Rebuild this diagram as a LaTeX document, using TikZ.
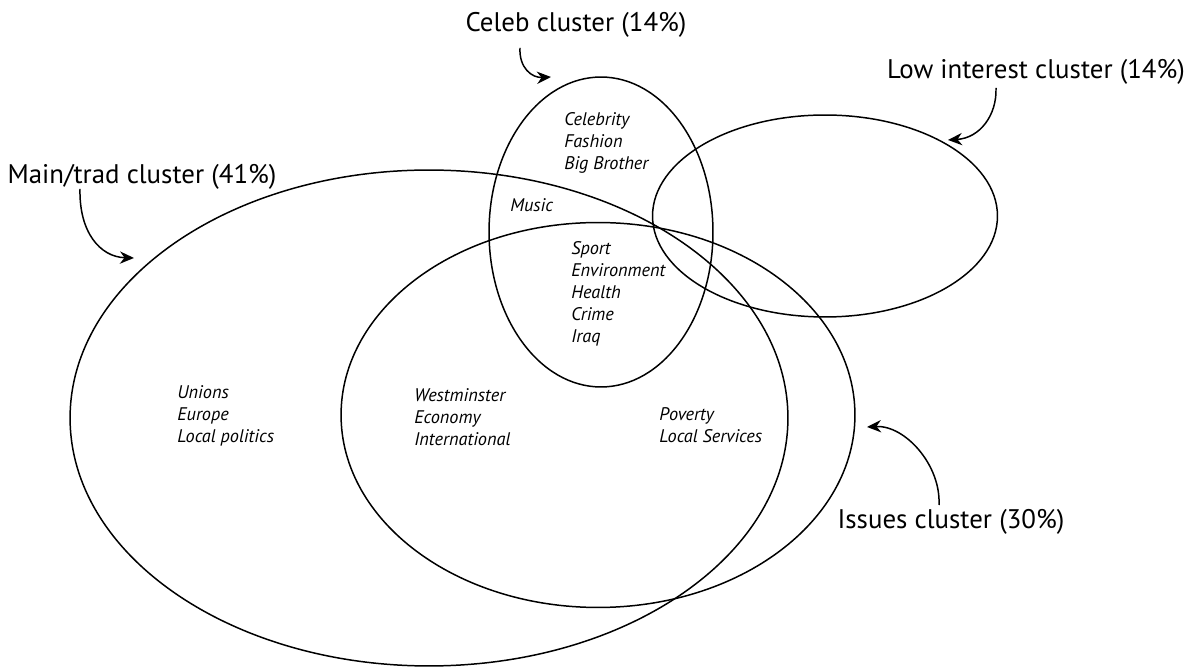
\documentclass[tikz,border=0pt]{standalone}
\usepackage{fontspec}
\setmainfont{PT Sans}
\usetikzlibrary{shapes.geometric,arrows.meta}

\begin{document}
\begin{tikzpicture}[x=0.02cm, y=-0.02cm,
	cluster/.style={ellipse, draw, line width=0.85pt, inner sep=0pt, outer sep=0pt},
	title/.style={font=\fontsize{15.3}{18}\selectfont, inner sep=0pt},
	topics/.style={font=\fontsize{10.4}{12.5}\selectfont\itshape, align=left, anchor=west, inner sep=0pt},
	pointer/.style={-{Stealth[length=8pt,width=7pt]}, line width=0.85pt}]
	\useasboundingbox (0,0) rectangle (1194,668);

	% the four clusters
	\node at (429,418) [cluster, minimum width=14.36cm, minimum height=9.92cm] (main) {};
	\node at (598,415) [cluster, minimum width=10.28cm, minimum height=7.7cm] (issues) {};
	\node at (601,232) [cluster, minimum width=4.48cm, minimum height=6.2cm] (celeb) {};
	\node at (825,216) [cluster, minimum width=6.9cm, minimum height=4.04cm] (low) {};

	% cluster names
	\node at (576,25) [title] (celeblbl) {Celeb cluster (14\%)};
	\node at (1036,72) [title] (lowlbl) {Low interest cluster (14\%)};
	\node at (142,177) [title] (mainlbl) {Main/trad cluster (41\%)};
	\node at (951,522) [title] (issueslbl) {Issues cluster (30\%)};

	% topics
	\node at (564,143) [topics] (celebtopics) {Celebrity\\Fashion\\Big Brother};
	\node at (510,205) [topics] (music) {Music};
	\node at (571,294) [topics] (shared) {Sport\\Environment\\Health\\Crime\\Iraq};
	\node at (177,416) [topics] (maintopics) {Unions\\Europe\\Local politics};
	\node at (414,417) [topics] (westtopics) {Westminster\\Economy\\International};
	\node at (659,425) [topics] (issuestopics) {Poverty\\Local Services};

	% arrow ends
	\coordinate (celebfrom) at (520,48);
	\coordinate (celebto) at (551,77);
	\coordinate (lowfrom) at (996,88);
	\coordinate (lowto) at (948,140);
	\coordinate (mainfrom) at (80,189);
	\coordinate (mainto) at (134,258);
	\coordinate (issuesfrom) at (939,505);
	\coordinate (issuesto) at (867,427);

	\draw [pointer] (celebfrom) .. controls (519,68) and (532,78) .. (celebto);
	\draw [pointer] (lowfrom) .. controls (997,115) and (980,138) .. (lowto);
	\draw [pointer] (mainfrom) .. controls (79,232) and (100,257) .. (mainto);
	\draw [pointer] (issuesfrom) .. controls (941,465) and (905,425) .. (issuesto);
\end{tikzpicture}
\end{document}
